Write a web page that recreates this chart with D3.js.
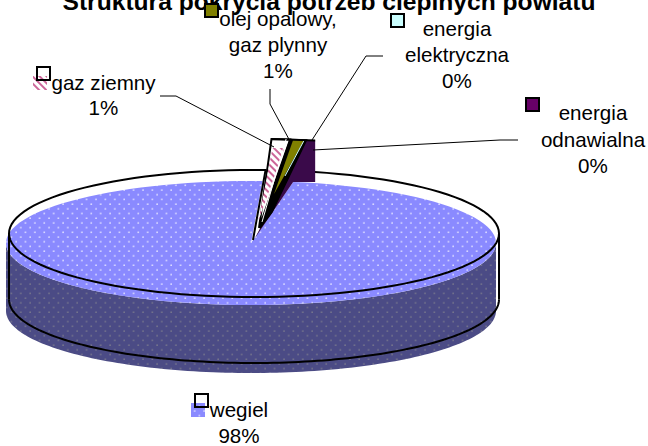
<!DOCTYPE html>
<html>
<head>
<meta charset="utf-8">
<script src="https://cdn.jsdelivr.net/npm/d3@7"></script>
<style>
  html, body { margin: 0; padding: 0; background: #fff; overflow: hidden; }
  text { font-family: "Liberation Sans", Arial, sans-serif; fill: #000; }
</style>
</head>
<body>
<div id="chart"></div>
<script>
// Data (the labels only show rounded values)
const categories = ["wegiel", "gaz ziemny", "olej opalowy,\ngaz plynny", "energia\nelektryczna", "energia\nodnawialna"];
const values = [98.0, 0.85, 0.65, 0.1, 0.4];
const titleText = "Struktura pokrycia potrzeb cieplnych powiatu";

function init() {
  const width = 648, height = 446;
  const rad = Math.PI / 180;

  const svg = d3.select("#chart").append("svg")
    .attr("width", width)
    .attr("height", height)
    .style("display", "block");

  // Patterns
  const defs = svg.append("defs");
  function dots(id, bg, dot, r) {
    const p = defs.append("pattern").attr("id", id)
      .attr("patternUnits", "userSpaceOnUse").attr("width", 9.4).attr("height", 9.4);
    p.append("rect").attr("width", 9.4).attr("height", 9.4).attr("fill", bg);
    p.append("circle").attr("cx", 2).attr("cy", 2).attr("r", r).attr("fill", dot);
    p.append("circle").attr("cx", 6.7).attr("cy", 6.7).attr("r", r).attr("fill", dot);
  }
  dots("dotsTop", "#8a8aff", "#e4e4ff", 0.85);
  dots("dotsSide", "#4b4b85", "#78788c", 0.85);
  const hatch = defs.append("pattern").attr("id", "hatch")
    .attr("patternUnits", "userSpaceOnUse").attr("width", 5).attr("height", 5)
    .attr("patternTransform", "rotate(45)");
  hatch.append("rect").attr("width", 5).attr("height", 5).attr("fill", "#fff");
  hatch.append("rect").attr("width", 5).attr("height", 2).attr("fill", "#cc6699");

  // Pie layout, starts a little right of twelve o'clock
  const pie = d3.pie().sort(null).startAngle(9.9 * rad).endAngle(369.9 * rad);
  const slices = pie(values);

  // Projected pie: filled body, the black outline sits slightly shifted from it
  const body = { cx: 251, cy: 243, rx: 245, ry: 62, depth: 68 };
  const edge = { cx: 254, cy: 233.5, rx: 245, ry: 63.5, depth: 66 };
  // The small slices stand out of the pie, on a larger rim
  const small = { cx: 255, cy: 236, rx: 350, ry: 97 };

  const at = (e, a) => [e.cx + e.rx * Math.sin(a), e.cy - e.ry * Math.cos(a)];
  const line = d3.line();
  const arcPts = (e, a0, a1) => d3.range(0, 121).map(i => at(e, a0 + (a1 - a0) * i / 120));
  const wedge = (e, s) => line([[e.cx, e.cy], ...arcPts(e, s.startAngle, s.endAngle)]) + "Z";
  const lowered = (e) => ({ ...e, cy: e.cy + e.depth });

  const big = slices[0];
  const notchRight = at(body, big.startAngle);

  // Side wall of the filled body
  svg.append("path")
    .attr("d", line([...arcPts(body, 90 * rad, 270 * rad), ...arcPts(lowered(body), 270 * rad, 90 * rad)]) + "Z")
    .attr("fill", "url(#dotsSide)");

  // Top of the big slice
  svg.append("path").attr("d", wedge(body, big)).attr("fill", "url(#dotsTop)");

  // Outline of the big slice, its right notch edge stays behind the small slices
  const edgeSlice = { startAngle: big.startAngle + 4.5 * rad, endAngle: big.endAngle };
  const outline = svg.append("g").attr("fill", "none").attr("stroke", "#000").attr("stroke-width", 2);
  outline.append("path")
    .attr("d", line([[253, 240], ...arcPts(edge, edgeSlice.endAngle, edgeSlice.startAngle)]));
  outline.append("path").attr("d", line(arcPts(lowered(edge), 90 * rad, 270 * rad)));
  outline.append("path").attr("d", line([at(edge, 90 * rad), at(lowered(edge), 90 * rad)]));
  outline.append("path").attr("d", line([at(edge, 270 * rad), at(lowered(edge), 270 * rad)]));

  // Small slices
  const [gaz, olej, elek, odn] = slices.slice(1);
  const smallG = svg.append("g");
  const apex = [259, 228];

  // gaz ziemny: white with a hatched part
  smallG.append("path")
    .attr("d", line([apex, at(small, gaz.startAngle), at(small, gaz.endAngle)]) + "Z")
    .attr("fill", "#fff").attr("stroke", "#000").attr("stroke-width", 2);
  const hatchEnd = [at(small, gaz.startAngle)[0] + 1, 148];
  smallG.append("path")
    .attr("d", line([[258, 222], hatchEnd, [hatchEnd[0] + 12, 148]]) + "Z")
    .attr("fill", "url(#hatch)");

  // odnawialna with its wall, running down to the notch tip
  const odnTop = at(small, odn.endAngle);
  smallG.append("path")
    .attr("d", line([[255, 238], at(small, elek.endAngle), odnTop, [odnTop[0], notchRight[1]], notchRight]) + "Z")
    .attr("fill", "#3a0a4a");

  // black body between the thin slices
  smallG.append("path")
    .attr("d", line([[260, 228], at(small, gaz.endAngle), at(small, elek.endAngle), [272, 212]]) + "Z")
    .attr("fill", "#000").attr("stroke", "#000").attr("stroke-width", 1.5);

  // olej
  smallG.append("path")
    .attr("d", line([[274, 194], [at(small, olej.startAngle)[0] + 3, 140], at(small, olej.endAngle)]) + "Z")
    .attr("fill", "#808000");

  // elektryczna, only a thin light line
  smallG.append("path")
    .attr("d", line([[285, 176], at(small, elek.startAngle)]))
    .attr("stroke", "#ccffff").attr("stroke-width", 1).attr("fill", "none");

  // top edge of the small slices
  smallG.append("path")
    .attr("d", line([at(small, gaz.startAngle), odnTop]))
    .attr("stroke", "#000").attr("stroke-width", 2).attr("fill", "none");
  smallG.append("path")
    .attr("d", line([[at(small, gaz.endAngle)[0] - 4, 139], [262, 222]]))
    .attr("stroke", "#fff").attr("stroke-width", 1).attr("fill", "none");

  // Leader lines
  const leaders = [
    [[160, 96], [176, 96], [274, 147]],
    [[270, 89], [270, 104], [291, 143]],
    [[383, 56], [366, 56], [312, 140]],
    [[518, 140], [500, 140], [313, 150]]
  ];
  svg.append("g").selectAll("path").data(leaders).join("path")
    .attr("d", d => line(d))
    .attr("fill", "none").attr("stroke", "#000").attr("stroke-width", 1);

  // Title, runs off the top of the picture as in the original
  svg.append("text")
    .attr("x", 329).attr("y", 10)
    .attr("text-anchor", "middle")
    .attr("font-size", 24.6)
    .attr("font-weight", "bold")
    .text(titleText);

  // Labels: name lines, then the rounded percent
  const labelPos = [
    { x: 239, y: 417, dy: 26 },
    { x: 103.5, y: 90, dy: 25 },
    { x: 278, y: 26, dy: 26 },
    { x: 457, y: 36, dy: 26 },
    { x: 593, y: 120, dy: 26.5 }
  ];
  const labels = svg.append("g").attr("font-size", 20.6).attr("text-anchor", "middle");
  categories.forEach((name, i) => {
    const lines = [...name.split("\n"), d3.format(".0f")(values[i]) + "%"];
    lines.forEach((t, j) => {
      labels.append("text")
        .attr("x", labelPos[i].x)
        .attr("y", labelPos[i].y + j * labelPos[i].dy)
        .text(t);
    });
  });

  // Legend keys next to the labels
  const keys = [
    { x: 195, y: 394, fill: "none", sx: 191, sy: 403, swatch: "url(#dotsTop)" },
    { x: 37, y: 67, fill: "none", sx: 33, sy: 76, swatch: "url(#hatch)" },
    { x: 205, y: 4, fill: "#808000" },
    { x: 391, y: 14, fill: "#ccffff" },
    { x: 526, y: 98, fill: "#660066" }
  ];
  const keyG = svg.append("g");
  keys.forEach(k => {
    if (k.swatch) {
      keyG.append("rect").attr("x", k.sx).attr("y", k.sy).attr("width", 14).attr("height", 14).attr("fill", k.swatch);
    }
    keyG.append("rect").attr("x", k.x).attr("y", k.y).attr("width", 13).attr("height", 13)
      .attr("fill", k.fill).attr("stroke", "#000").attr("stroke-width", 2);
  });
}

window.onload = init;
</script>
</body>
</html>
